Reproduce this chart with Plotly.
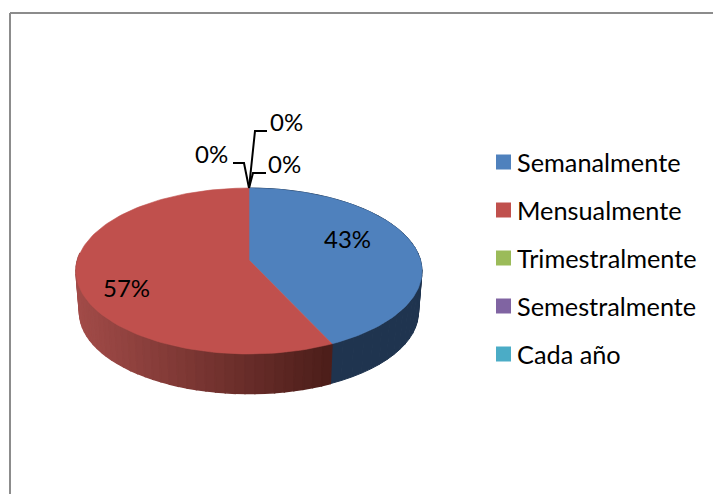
import math
import plotly.graph_objects as go

categories = ["Semanalmente", "Mensualmente", "Trimestralmente", "Semestralmente", "Cada año"]
values = [43, 57, 0, 0, 0]
colors = ["#4F81BD", "#C0504D", "#9BBB59", "#8064A2", "#4BACC6"]
side_colors = ["#1F344F", None]
label_pos = [(347, 238), (126, 287), (211, 153), (286, 121), (284, 163)]
legend_y = [163, 211, 259, 307, 355]
leaders = [None, None,
           [(249, 188), (244, 163), (233, 163)],
           [(249, 188), (255, 131), (267, 131)],
           [(249, 188), (253, 173), (266, 173)]]

K = 0.1326
CX = 249


def project(theta_deg, y0, a, b):
    t = math.radians(theta_deg)
    u, v = math.sin(t), -math.cos(t)
    w = 1 / (1 - K * v)
    return CX + b * u * w, y0 + a * v * w


def top(th):
    return project(th, 260, 81.5, 171.5)


def bot(th):
    return project(th, 301.5, 79.9, 168)


def poly(pts, color, lw=0.6):
    xs = [p[0] for p in pts] + [pts[0][0]]
    ys = [p[1] for p in pts] + [pts[0][1]]
    return go.Scatter(x=xs, y=ys, mode="lines", fill="toself", fillcolor=color,
                      line=dict(color=color, width=lw), hoverinfo="skip", showlegend=False)


def arc(fn, a, b, n):
    return [fn(a + (b - a) * i / n) for i in range(n + 1)]


fig = go.Figure()
total = sum(values)
angles = [0]
for val in values:
    angles.append(angles[-1] + 360 * val / total)

# Side wall, blue slice
a0, a1 = angles[0], angles[1]
N = 40
for i in range(N):
    s, e = a0 + (a1 - a0) * i / N, a0 + (a1 - a0) * (i + 1) / N
    fig.add_trace(poly(arc(top, s, e, 3) + arc(bot, e, s, 3), side_colors[0], 1))

# Side wall, red slice: shaded in strips from light at the left to dark at the right
a0, a1 = angles[1], angles[2]
N = 70
xa = top(a0)[0]
xb = CX - 173
for i in range(N - 1, -1, -1):
    s, e = a0 + (a1 - a0) * i / N, a0 + (a1 - a0) * (i + 1) / N
    if s > 273:
        continue
    t = (top((s + e) / 2)[0] - xb) / (xa - xb)
    t = max(0, min(1, t))
    c = "rgb(%d,%d,%d)" % (163 + (76 - 163) * t, 76 + (30 - 76) * t, 73 + (26 - 73) * t)
    fig.add_trace(poly(arc(top, s, e, 3) + arc(bot, e, s, 3), c, 1.5))

# Top face
for i, val in enumerate(values):
    if val > 0:
        pts = [(CX, 260)] + arc(top, angles[i], angles[i + 1], 120)
        fig.add_trace(poly(pts, colors[i]))

# Leader lines
for pts in leaders:
    if pts:
        fig.add_trace(go.Scatter(x=[p[0] for p in pts], y=[p[1] for p in pts], mode="lines",
                                 line=dict(color="#000000", width=2),
                                 hoverinfo="skip", showlegend=False))

# Legend entries
for i, name in enumerate(categories):
    fig.add_trace(go.Scatter(x=[503.5], y=[legend_y[i] - 1], mode="markers", name=name,
                             marker=dict(symbol="square", size=15, color=colors[i]),
                             hoverinfo="skip", showlegend=False))
    fig.add_annotation(x=515, y=legend_y[i] - 1, text=name, showarrow=False, xanchor="left",
                       font=dict(family="Lato", size=25.3, color="#000000"))

# Percent labels
for i, val in enumerate(values):
    fig.add_annotation(x=label_pos[i][0], y=label_pos[i][1], text=f"{round(100 * val / total)}%",
                       showarrow=False, font=dict(family="Lato", size=24, color="#000000"))

# Chart frame
fig.add_shape(type="line", x0=10, x1=713, y0=13, y1=13, line=dict(color="#8C8C8C", width=2))
fig.add_shape(type="line", x0=10, x1=10, y0=13, y1=494, line=dict(color="#8C8C8C", width=2))

fig.update_layout(
    width=713, height=494, margin=dict(l=0, r=0, t=0, b=0),
    paper_bgcolor="#FFFFFF", plot_bgcolor="#FFFFFF", showlegend=False,
    xaxis=dict(range=[0, 713], visible=False, fixedrange=True),
    yaxis=dict(range=[494, 0], visible=False, fixedrange=True),
    font=dict(family="Lato", color="#000000"),
)
fig.write_html("out.html", config=dict(displayModeBar=False),
               post_script="document.body.style.margin='0';document.documentElement.style.overflow='hidden';")
